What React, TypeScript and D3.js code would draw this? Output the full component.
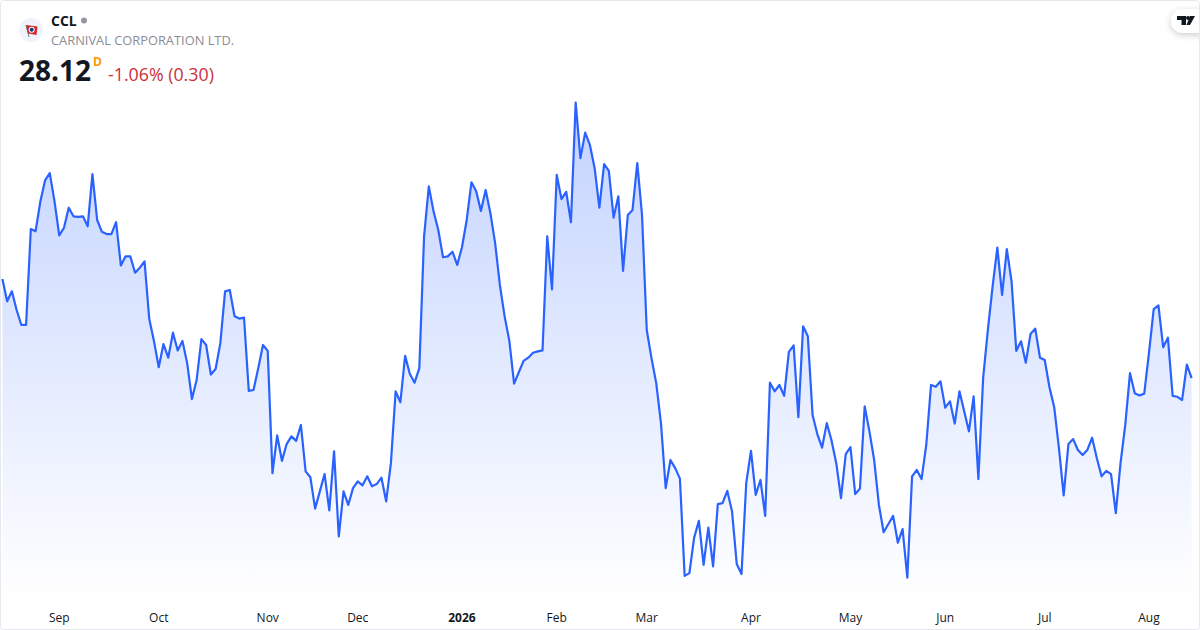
import React from "react";
import * as d3 from "d3";

const closes: number[] = [
  30.30,29.81,30.03,29.62,29.29,29.29,31.40,31.35,32.00,32.47,32.63,32.01,31.26,31.43,31.87,31.68,31.67,31.68,31.46,32.61,
  31.60,31.34,31.29,31.29,31.55,30.60,30.80,30.80,30.44,30.55,30.69,29.42,28.93,28.36,28.87,28.57,29.12,28.73,28.94,28.45,
  27.66,28.08,28.98,28.85,28.20,28.32,28.89,30.03,30.06,29.48,29.43,29.45,27.84,27.86,28.34,28.85,28.72,26.03,26.86,26.30,
  26.67,26.84,26.74,27.09,26.07,25.94,25.25,25.63,26.01,25.21,26.51,24.64,25.63,25.33,25.70,25.85,25.76,25.96,25.74,25.79,
  25.93,25.41,26.25,27.83,27.59,28.61,28.21,28.02,28.34,31.24,32.34,31.79,31.38,30.78,30.80,30.90,30.61,31.00,31.60,32.43,
  32.23,31.80,32.26,31.75,31.09,30.17,29.48,28.94,28.00,28.25,28.50,28.57,28.68,28.71,28.73,31.24,30.07,32.59,32.06,32.22,
  31.55,34.18,32.96,33.52,33.25,32.74,31.87,32.83,32.68,31.65,32.12,30.48,31.71,31.82,32.85,31.71,29.18,28.56,28.01,27.13,
  25.70,26.32,26.14,25.91,23.77,23.83,24.61,24.98,24.01,24.83,23.98,25.35,25.37,25.64,25.19,24.03,23.81,25.81,26.52,25.55,
  25.88,25.09,28.02,27.83,27.97,27.73,28.70,28.84,27.26,29.26,29.04,27.31,26.89,26.59,27.13,26.75,26.25,25.48,26.45,26.60,
  25.57,25.69,27.50,26.95,26.32,25.33,24.73,24.91,25.09,24.50,24.80,23.73,25.96,26.10,25.90,26.65,27.97,27.93,28.05,27.47,
  27.61,27.12,27.83,27.39,26.95,27.72,25.90,28.12,29.18,30.14,30.99,29.95,30.96,30.25,28.72,28.93,28.46,29.09,29.21,28.57,
  28.52,27.92,27.48,26.58,25.54,26.67,26.78,26.54,26.43,26.54,26.81,26.36,25.96,26.08,26.01,25.15,26.25,27.09,28.23,27.79,
  27.74,27.78,28.67,29.64,29.72,28.80,29.01,27.73,27.71,27.64,28.42,28.12,
];
const tickLabels = ["Sep", "Oct", "Nov", "Dec", "2026", "Feb", "Mar", "Apr", "May", "Jun", "Jul", "Aug"];
const tickIndices = [12, 33, 56, 75, 97, 117, 136, 158, 179, 199, 220, 242];
const boldTicks = ["2026"];

const FONT = "'Open Sans', 'Noto Sans', sans-serif";
const BLUE = "#2962ff";

export default function App() {
  const x = d3.scaleLinear().domain([0, closes.length - 1]).range([2.4, 1191.6]);
  const y = d3.scaleLinear().domain([23.73, 34.18]).range([577.7, 102.7]);
  const line = d3.line<number>().x((_, i) => x(i)).y((d) => y(d)).curve(d3.curveLinear);
  const area = d3.area<number>().x((_, i) => x(i)).y0(600).y1((d) => y(d)).curve(d3.curveLinear);

  return (
    <svg width={1200} height={630} viewBox="0 0 1200 630" style={{ position: "fixed", left: 0, top: 0, display: "block" }} fontFamily={FONT}>
      <defs>
        <linearGradient id="fill" gradientUnits="userSpaceOnUse" x1="0" y1="102" x2="0" y2="600">
          <stop offset="0" stopColor={BLUE} stopOpacity={0.28} />
          <stop offset="1" stopColor={BLUE} stopOpacity={0} />
        </linearGradient>
        <filter id="pill" x="-40%" y="-60%" width="180%" height="220%">
          <feDropShadow dx="0" dy="2" stdDeviation="3.5" floodColor="#000" floodOpacity="0.2" />
        </filter>
        <clipPath id="card"><rect x="0.5" y="0.5" width="1199" height="629" rx="3" /></clipPath>
      </defs>
      <rect x="0" y="0" width="1200" height="630" fill="#fff" />
      <path d={area(closes) ?? ""} fill="url(#fill)" />
      <path d={line(closes) ?? ""} fill="none" stroke={BLUE} strokeWidth={2.2} strokeLinejoin="round" />

      {tickLabels.map((t, i) => (
        <text key={t} x={x(tickIndices[i])} y={622} textAnchor="middle" fontSize={12}
          fontWeight={boldTicks.includes(t) ? 700 : 400} fill="#131722">{t}</text>
      ))}

      {/* logo */}
      <circle cx={31} cy={30} r={12} fill="#f0f3fa" />
      <path d="M26 25 L37.5 26.5 L36.5 35 L28 33.5 Z" fill="#d8232f" />
      <circle cx={31.7} cy={29.8} r={3} fill="#fff" />
      <circle cx={31.7} cy={29.8} r={2} fill="#123a7a" />
      <path d="M26 25 L29 37" stroke="#555" strokeWidth={0.8} />

      {/* header */}
      <text x={51} y={26} fontSize={14} fontWeight={700} fill="#131722">CCL</text>
      <circle cx={84} cy={20.5} r={3} fill="#9598a1" />
      <text x={51} y={45} fontSize={12.85} fill="#8a8d96">CARNIVAL CORPORATION LTD.</text>
      <text x={19} y={81} fontSize={28} fontWeight={700} fill="#131722">28.12</text>
      <text x={93} y={66} fontSize={12} fontWeight={700} fill="#ff9800">D</text>
      <text x={108} y={81} fontSize={17.8} fill="#cc2f3c">-1.06% (0.30)</text>

      {/* TradingView mark */}
      <g clipPath="url(#card)">
        <rect x={1171} y={9} width={44} height={24} rx={12} fill="#fff" filter="url(#pill)" />
        <path d="M1177 16 H1186 V25 H1181.5 V20 H1177 Z" fill="#131722" />
        <circle cx={1188} cy={18} r={2} fill="#131722" />
        <path d="M1190 16 H1195 L1190 25 H1186.5 Z" fill="#131722" />
      </g>

      <rect x="0.5" y="0.5" width="1199" height="629" rx="3" fill="none" stroke="#e6e8ec" strokeWidth={1} />
    </svg>
  );
}
